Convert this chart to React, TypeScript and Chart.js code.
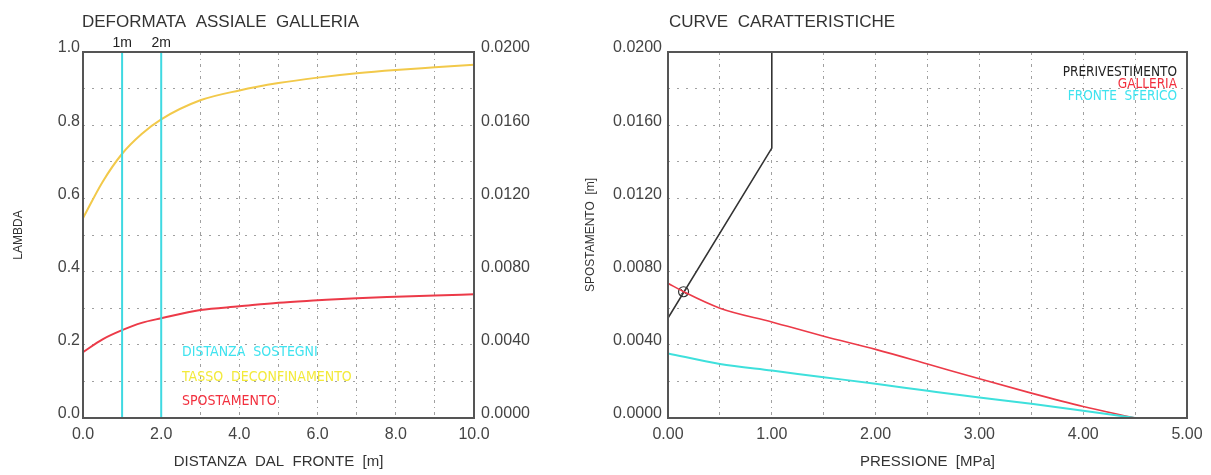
import React, { useEffect, useRef } from 'react';
import { Chart, registerables } from 'chart.js';

Chart.register(...registerables);

// ---------- Left chart data (DEFORMATA ASSIALE GALLERIA) ----------
const distanza = [0, 0.5, 1, 1.5, 2, 3, 4, 5, 6, 7, 8, 9, 10];
const lambdaValues = [0.546, 0.645, 0.722, 0.776, 0.816, 0.868, 0.895, 0.915, 0.93, 0.942, 0.951, 0.958, 0.965];
const spostamentoValues = [0.0036, 0.0043, 0.0048, 0.0052, 0.00545, 0.0059, 0.0061, 0.0063, 0.00643, 0.00655, 0.00663, 0.0067, 0.00676];
const sostegni = [1, 2];
const sostegniLabels = ['1m', '2m'];

// ---------- Right chart data (CURVE CARATTERISTICHE) ----------
const pressioneGalleria = [0, 0.15, 0.5, 1.0, 1.5, 2.0, 2.5, 3.0, 3.5, 4.0, 4.5];
const spostGalleria = [0.00736, 0.0069, 0.006, 0.00525, 0.00447, 0.00375, 0.00295, 0.00214, 0.00136, 0.00063, 0];
const pressioneFronte = [0, 0.5, 1.0, 1.5, 2.0, 2.5, 3.0, 3.5, 4.0, 4.5];
const spostFronte = [0.00353, 0.00295, 0.00259, 0.00223, 0.00187, 0.00149, 0.00112, 0.00078, 0.0004, 0];
const pressionePreriv = [0, 1.0, 1.0];
const spostPreriv = [0.00546, 0.01475, 0.02];
const equilibrio = [0.15, 0.0069];

const SANS = "'Liberation Sans', Arial, sans-serif";
const COND = "'DejaVu Sans Condensed', 'Liberation Sans Narrow', sans-serif";
const GRID = '#a0a0a0';
const TICK = '#444';
const XDASH = [3, 4, 1, 4];
const YDASH = [2, 7];

const zip = (xs: number[], ys: number[]) => xs.map((x, i) => ({ x, y: ys[i] }));

type TextItem = { text: string; x: (c: any) => number; y: (c: any) => number; color: string; font: string; align: CanvasTextAlign };

const overlayPlugin = (items: TextItem[]) => ({
  id: 'overlay',
  afterDraw(chart: any) {
    const ctx = chart.ctx;
    const a = chart.chartArea;
    ctx.save();
    ctx.strokeStyle = '#555';
    ctx.lineWidth = 2;
    ctx.setLineDash([]);
    ctx.strokeRect(a.left, a.top, a.right - a.left, a.bottom - a.top);
    for (const it of items) {
      ctx.font = it.font;
      ctx.fillStyle = it.color;
      ctx.textAlign = it.align;
      ctx.textBaseline = 'middle';
      ctx.fillText(it.text, it.x(chart), it.y(chart));
    }
    ctx.restore();
  },
});

export default function App() {
  const leftRef = useRef<HTMLCanvasElement>(null);
  const rightRef = useRef<HTMLCanvasElement>(null);

  useEffect(() => {
    const tickFont = { family: SANS, size: 16 };

    const leftTexts: TextItem[] = [
      { text: 'DEFORMATA  ASSIALE  GALLERIA', x: () => 82, y: () => 22, color: '#333', font: `17px ${SANS}`, align: 'left' },
      ...sostegni.map((s, i) => ({
        text: sostegniLabels[i],
        x: (c: any) => c.scales.x.getPixelForValue(s),
        y: (c: any) => c.chartArea.top - 9,
        color: '#222', font: `14px ${SANS}`, align: 'center' as CanvasTextAlign,
      })),
      { text: 'DISTANZA  SOSTEGNI', x: () => 182, y: () => 352, color: '#3fe3ef', font: `14px ${COND}`, align: 'left' },
      { text: 'TASSO  DECONFINAMENTO', x: () => 182, y: () => 377, color: '#f3ea3a', font: `14px ${COND}`, align: 'left' },
      { text: 'SPOSTAMENTO', x: () => 182, y: () => 401, color: '#f2303e', font: `14px ${COND}`, align: 'left' },
    ];

    const left = new Chart(leftRef.current!, {
      type: 'line',
      data: {
        datasets: [
          ...sostegni.map((s) => ({
            data: [{ x: s, y: 0 }, { x: s, y: 1 }],
            borderColor: '#3fd9e2', borderWidth: 2, pointRadius: 0, yAxisID: 'y',
          })),
          {
            data: zip(distanza, lambdaValues), borderColor: '#f2c94a', borderWidth: 2,
            pointRadius: 0, cubicInterpolationMode: 'monotone', yAxisID: 'y',
          },
          {
            data: zip(distanza, spostamentoValues), borderColor: '#ec3a48', borderWidth: 2,
            pointRadius: 0, cubicInterpolationMode: 'monotone', yAxisID: 'y1',
          },
        ] as any,
      },
      options: {
        responsive: false, animation: false,
        layout: { padding: { top: 52, left: 0, right: 0, bottom: 0 } },
        plugins: { legend: { display: false }, tooltip: { enabled: false } },
        scales: {
          x: {
            type: 'linear', min: 0, max: 10, position: 'bottom',
            grid: { color: GRID, drawTicks: false },
            border: { display: false, dash: XDASH },
            ticks: {
              stepSize: 1, autoSkip: false, maxRotation: 0, padding: 7, color: TICK, font: tickFont,
              callback: (v: any) => (Math.round(v) % 2 === 0 ? Number(v).toFixed(1) : ''),
            },
            title: { display: true, text: 'DISTANZA  DAL  FRONTE  [m]', color: '#333', font: { family: SANS, size: 15 }, padding: { bottom: 4, top: 0 } },
            afterFit: (s: any) => { s.height = 57; },
          },
          y: {
            type: 'linear', min: 0, max: 1, position: 'left',
            grid: { color: GRID, drawTicks: false },
            border: { display: false, dash: YDASH },
            ticks: {
              stepSize: 0.1, autoSkip: false, padding: 3, labelOffset: -4, color: TICK, font: tickFont,
              callback: (v: any) => (Math.round(v * 10) % 2 === 0 ? Number(v).toFixed(1) : ''),
            },
            title: { display: true, text: 'LAMBDA', color: '#333', font: { family: SANS, size: 12 }, padding: { top: 11, bottom: 0 } },
            afterFit: (s: any) => { s.width = 83; },
          },
          y1: {
            type: 'linear', min: 0, max: 0.02, position: 'right',
            grid: { display: false, drawTicks: false },
            border: { display: false },
            ticks: {
              stepSize: 0.002, autoSkip: false, padding: 7, labelOffset: -4, color: TICK, font: tickFont,
              callback: (v: any) => (Math.round(v / 0.002) % 2 === 0 ? Number(v).toFixed(4) : ''),
            },
            afterFit: (s: any) => { s.width = 106; },
          },
        } as any,
      },
      plugins: [overlayPlugin(leftTexts)],
    });

    const rightTexts: TextItem[] = [
      { text: 'CURVE  CARATTERISTICHE', x: () => 89, y: () => 22, color: '#333', font: `17px ${SANS}`, align: 'left' },
      { text: 'PRERIVESTIMENTO', x: (c: any) => c.chartArea.right - 10, y: () => 72, color: '#222', font: `13.5px ${COND}`, align: 'right' },
      { text: 'GALLERIA', x: (c: any) => c.chartArea.right - 10, y: () => 84, color: '#f2303e', font: `13.5px ${COND}`, align: 'right' },
      { text: 'FRONTE  SFERICO', x: (c: any) => c.chartArea.right - 10, y: () => 96, color: '#3fe3ef', font: `13.5px ${COND}`, align: 'right' },
    ];

    const right = new Chart(rightRef.current!, {
      type: 'line',
      data: {
        datasets: [
          { data: zip(pressioneFronte, spostFronte), borderColor: '#3ee0dc', borderWidth: 2, pointRadius: 0, cubicInterpolationMode: 'monotone' },
          { data: zip(pressioneGalleria, spostGalleria), borderColor: '#ec3a48', borderWidth: 1.6, pointRadius: 0, cubicInterpolationMode: 'monotone' },
          { data: zip(pressionePreriv, spostPreriv), borderColor: '#333', borderWidth: 1.6, pointRadius: 0 },
          {
            data: [{ x: equilibrio[0], y: equilibrio[1] }], showLine: false,
            pointStyle: 'circle', pointRadius: 5, borderColor: '#333', borderWidth: 1.2, backgroundColor: 'rgba(0,0,0,0)',
          },
          {
            data: [{ x: equilibrio[0], y: equilibrio[1] }], showLine: false,
            pointStyle: 'crossRot', pointRadius: 4, borderColor: '#333', borderWidth: 1,
          },
        ] as any,
      },
      options: {
        responsive: false, animation: false,
        layout: { padding: { top: 52, left: 0, right: 24, bottom: 0 } },
        plugins: { legend: { display: false }, tooltip: { enabled: false } },
        scales: {
          x: {
            type: 'linear', min: 0, max: 5, position: 'bottom',
            grid: { color: GRID, drawTicks: false },
            border: { display: false, dash: XDASH },
            ticks: {
              stepSize: 0.5, autoSkip: false, maxRotation: 0, padding: 7, color: TICK, font: tickFont,
              callback: (v: any) => (Math.round(v * 2) % 2 === 0 ? Number(v).toFixed(2) : ''),
            },
            title: { display: true, text: 'PRESSIONE  [MPa]', color: '#333', font: { family: SANS, size: 15 }, padding: { bottom: 4, top: 0 } },
            afterFit: (s: any) => { s.height = 57; },
          },
          y: {
            type: 'linear', min: 0, max: 0.02, position: 'left',
            grid: { color: GRID, drawTicks: false },
            border: { display: false, dash: YDASH },
            ticks: {
              stepSize: 0.002, autoSkip: false, padding: 6, labelOffset: -4, color: TICK, font: tickFont,
              callback: (v: any) => (Math.round(v / 0.002) % 2 === 0 ? Number(v).toFixed(4) : ''),
            },
            title: { display: true, text: 'SPOSTAMENTO  [m]', color: '#333', font: { family: SANS, size: 12 }, padding: { top: 3, bottom: 0 } },
            afterFit: (s: any) => { s.width = 88; },
          },
        } as any,
      },
      plugins: [overlayPlugin(rightTexts)],
    });

    return () => {
      left.destroy();
      right.destroy();
    };
  }, []);

  return (
    <div style={{ position: 'fixed', left: 0, top: 0, width: 1211, height: 475, background: '#fff' }}>
      <canvas ref={leftRef} width={580} height={475} style={{ position: 'absolute', left: 0, top: 0, width: 580, height: 475 }} />
      <canvas ref={rightRef} width={631} height={475} style={{ position: 'absolute', left: 580, top: 0, width: 631, height: 475 }} />
    </div>
  );
}
